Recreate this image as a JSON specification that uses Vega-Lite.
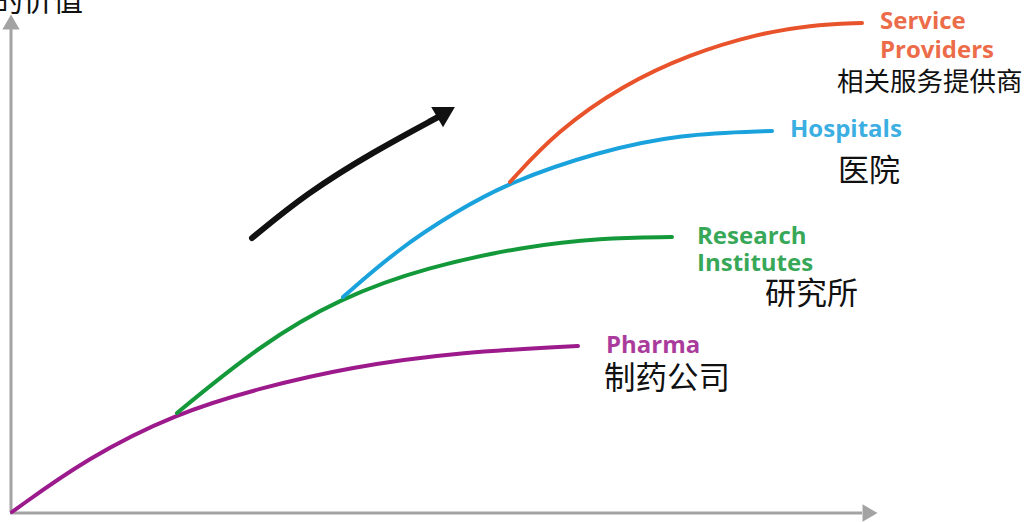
{
  "$schema": "https://vega.github.io/schema/vega-lite/v6.json",
  "width": 1026,
  "height": 522,
  "autosize": {"type": "none"},
  "padding": 0,
  "background": "#ffffff",
  "config": {"view": {"stroke": null}},
  "datasets": {
    "curves": [
      {"series": "Pharma", "x": 12, "y": 10},
      {"series": "Pharma", "x": 87, "y": 64},
      {"series": "Pharma", "x": 177, "y": 109},
      {"series": "Pharma", "x": 260, "y": 134},
      {"series": "Pharma", "x": 350, "y": 155},
      {"series": "Pharma", "x": 460, "y": 170},
      {"series": "Pharma", "x": 578, "y": 176},
      {"series": "Research", "x": 177, "y": 109},
      {"series": "Research", "x": 260, "y": 177},
      {"series": "Research", "x": 340, "y": 224},
      {"series": "Research", "x": 427, "y": 255},
      {"series": "Research", "x": 527, "y": 276},
      {"series": "Research", "x": 600, "y": 284},
      {"series": "Research", "x": 672, "y": 285},
      {"series": "Hospitals", "x": 343, "y": 225},
      {"series": "Hospitals", "x": 397, "y": 272},
      {"series": "Hospitals", "x": 455, "y": 310},
      {"series": "Hospitals", "x": 510, "y": 340},
      {"series": "Hospitals", "x": 597, "y": 370},
      {"series": "Hospitals", "x": 680, "y": 388},
      {"series": "Hospitals", "x": 772, "y": 391},
      {"series": "Service", "x": 510, "y": 340},
      {"series": "Service", "x": 557, "y": 391},
      {"series": "Service", "x": 623, "y": 437},
      {"series": "Service", "x": 690, "y": 468},
      {"series": "Service", "x": 757, "y": 488},
      {"series": "Service", "x": 810, "y": 497},
      {"series": "Service", "x": 862, "y": 499}
    ],
    "arrow": [
      {"x": 252, "y": 284},
      {"x": 307, "y": 329},
      {"x": 373, "y": 370},
      {"x": 440, "y": 406}
    ],
    "heads": [
      {"x": 446, "y": 410, "angle": 60, "c": "#111111", "s": 560},
      {"x": 11, "y": 500, "angle": 0, "c": "#a3a3a3", "s": 300},
      {"x": 870, "y": 9, "angle": 90, "c": "#a3a3a3", "s": 300}
    ],
    "axes": [
      {"x": 11, "y": 10, "x2": 11, "y2": 495},
      {"x": 10, "y": 9, "x2": 862, "y2": 9}
    ],
    "en": [
      {"series": "Service", "label": "Service", "x": 880, "y": 500},
      {"series": "Service", "label": "Providers", "x": 880, "y": 471},
      {"series": "Hospitals", "label": "Hospitals", "x": 790, "y": 392},
      {"series": "Research", "label": "Research", "x": 697, "y": 285},
      {"series": "Research", "label": "Institutes", "x": 697, "y": 258},
      {"series": "Pharma", "label": "Pharma", "x": 606, "y": 176}
    ],
    "zh": [
      {"label": "相关服务提供商", "x": 837, "y": 439, "fs": 26.5},
      {"label": "医院", "x": 838, "y": 350, "fs": 31},
      {"label": "研究所", "x": 765, "y": 227, "fs": 31},
      {"label": "制药公司", "x": 604, "y": 142, "fs": 31.5}
    ],
    "title": [
      {"label": "的价值", "x": 83, "y": 520}
    ]
  },
  "encoding": {
    "x": {"field": "x", "type": "quantitative", "scale": {"domain": [0, 1026], "nice": false, "zero": false}, "axis": null},
    "y": {"field": "y", "type": "quantitative", "scale": {"domain": [0, 522], "nice": false, "zero": false}, "axis": null}
  },
  "layer": [
    {
      "data": {"name": "axes"},
      "mark": {"type": "rule", "color": "#a3a3a3", "strokeWidth": 3},
      "encoding": {"x2": {"field": "x2"}, "y2": {"field": "y2"}}
    },
    {
      "data": {"name": "curves"},
      "mark": {"type": "line", "interpolate": "basis", "strokeWidth": 4, "strokeCap": "round"},
      "encoding": {
        "color": {"field": "series", "type": "nominal", "scale": {"domain": ["Pharma", "Research", "Hospitals", "Service"], "range": ["#9c1a8c", "#13993a", "#1aa2dc", "#e9532b"]}, "legend": null},
        "order": {"field": "x", "type": "quantitative"}
      }
    },
    {
      "data": {"name": "arrow"},
      "mark": {"type": "line", "interpolate": "basis", "strokeWidth": 6, "color": "#111111", "strokeCap": "round"},
      "encoding": {}
    },
    {
      "data": {"name": "heads"},
      "mark": {"type": "point", "shape": "triangle-up", "filled": true, "opacity": 1},
      "encoding": {
        "angle": {"field": "angle", "type": "quantitative", "scale": null},
        "color": {"field": "c", "type": "nominal", "scale": null},
        "size": {"field": "s", "type": "quantitative", "scale": null}
      }
    },
    {
      "data": {"name": "en"},
      "mark": {"type": "text", "align": "left", "baseline": "middle", "font": "Open Sans", "fontWeight": "bold", "fontSize": 24, "opacity": 0.85},
      "encoding": {
        "text": {"field": "label"},
        "color": {"field": "series", "type": "nominal", "scale": {"domain": ["Pharma", "Research", "Hospitals", "Service"], "range": ["#9c1a8c", "#13993a", "#1aa2dc", "#e9532b"]}, "legend": null}
      }
    },
    {
      "data": {"name": "zh"},
      "mark": {"type": "text", "align": "left", "baseline": "middle", "font": "Noto Sans CJK SC", "color": "#111111"},
      "encoding": {
        "text": {"field": "label"},
        "size": {"field": "fs", "type": "quantitative", "scale": null}
      }
    },
    {
      "data": {"name": "title"},
      "mark": {"type": "text", "align": "right", "baseline": "middle", "font": "Noto Sans CJK SC", "fontSize": 30, "color": "#111111"},
      "encoding": {"text": {"field": "label"}}
    }
  ]
}
